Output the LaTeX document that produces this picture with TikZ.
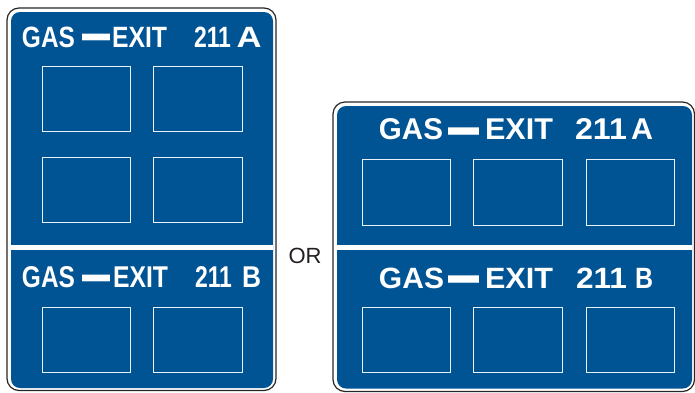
\documentclass[tikz,border=0pt]{standalone}
\usepackage{fontspec}
\setmainfont{Liberation Sans}
\newfontfamily\signfont{Liberation Sans}
\definecolor{signblue}{RGB}{0,84,148}
\definecolor{ortext}{RGB}{35,31,32}
\tikzset{
  border/.style={draw=black!85, line width=1.2pt, rounded corners=12pt},
  panel/.style={fill=signblue, rounded corners=9pt},
  divider/.style={fill=white},
  slot/.style={draw=white!92!signblue, line width=1pt},
  wordL/.style={text=white, inner sep=0pt, outer sep=0pt, font=\signfont\bfseries},
  wordR/.style={text=white, inner sep=0pt, outer sep=0pt, font=\signfont\bfseries},
  dashL/.style={text=white, inner sep=0pt, outer sep=0pt, anchor=base, font=\signfont\bfseries},
  dashR/.style={text=white, inner sep=0pt, outer sep=0pt, anchor=base, font=\signfont\bfseries},
}
\newcommand{\sgword}[3]{\resizebox{#1pt}{#2pt}{\raisebox{0pt}[0.716em][0pt]{#3}}}
\newcommand{\sgdash}[2]{\scalebox{1}[#2]{\resizebox{#1pt}{!}{—}}}
\begin{document}
\begin{tikzpicture}[x=1pt,y=-1pt]
\useasboundingbox (0,0) rectangle (695,392);
% ---------- left sign ----------
\draw[border] (7,8) rectangle (276,390.5);
\fill[panel] (11,12) rectangle (273,388);
\fill[divider] (11,245) rectangle (273,250);
% title A
\node[wordL] (lagas) at (48.5,36.5) {\sgword{53}{21}{GAS}};
\node[dashL] (ladash) at (96,55.5) {\sgdash{28}{2.4}};
\node[wordL] (laexit) at (139.5,36.5) {\sgword{55}{21}{EXIT}};
\node[wordL] (lanum) at (212.5,36.5) {\sgword{37}{21}{211}};
\node[wordL] (lalet) at (249,36.5) {\sgword{25}{21}{A}};
\draw[slot] (42,66) rectangle (130,131);
\draw[slot] (153,66) rectangle (242,131);
\draw[slot] (42,157) rectangle (130,222);
\draw[slot] (153,157) rectangle (242,222);
% title B
\node[wordL] (lbgas) at (48.5,277) {\sgword{53}{21.5}{GAS}};
\node[dashL] (lbdash) at (96,296.5) {\sgdash{28}{2.4}};
\node[wordL] (lbexit) at (140.5,277) {\sgword{55}{21.5}{EXIT}};
\node[wordL] (lbnum) at (213.5,277) {\sgword{37}{21.5}{211}};
\node[wordL] (lblet) at (251.5,277) {\sgword{19}{21.5}{B}};
\draw[slot] (42,307) rectangle (130,372);
\draw[slot] (153,307) rectangle (242,372);
% ---------- OR ----------
\node[text=ortext, inner sep=0pt, font=\fontsize{22}{24}\selectfont] (or) at (305,256) {OR};
% ---------- right sign ----------
\draw[border] (333,102) rectangle (694.5,391.5);
\fill[panel] (337,106) rectangle (692,388.5);
\fill[divider] (337,245) rectangle (692,250);
% title A
\node[wordR] (ragas) at (411,129) {\sgword{64}{21.5}{GAS}};
\node[dashR] (radash) at (463.5,151.4) {\sgdash{31}{2.4}};
\node[wordR] (raexit) at (519,129) {\sgword{68}{21.5}{EXIT}};
\node[wordR] (ranum) at (601,129) {\sgword{52}{21.5}{211}};
\node[wordR] (ralet) at (642,129) {\sgword{22}{21.5}{A}};
\draw[slot] (362,159) rectangle (450,225);
\draw[slot] (473,159) rectangle (562,225);
\draw[slot] (586,159) rectangle (674,225);
% title B
\node[wordR] (rbgas) at (411.5,277.5) {\sgword{65}{21}{GAS}};
\node[dashR] (rbdash) at (463.5,299) {\sgdash{31}{2.4}};
\node[wordR] (rbexit) at (519,277.5) {\sgword{68}{21}{EXIT}};
\node[wordR] (rbnum) at (601.5,277.5) {\sgword{51}{21}{211}};
\node[wordR] (rblet) at (644,277.5) {\sgword{18}{21}{B}};
\draw[slot] (362,307) rectangle (450,372);
\draw[slot] (473,307) rectangle (562,372);
\draw[slot] (586,307) rectangle (674,372);
\end{tikzpicture}
\end{document}
